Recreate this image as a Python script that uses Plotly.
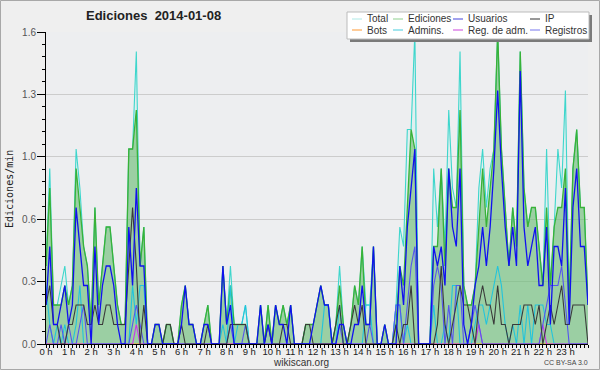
import plotly.graph_objects as go

# ---- data (edits per minute, 10-minute bins) ----
minutos = list(range(0, 1450, 10))
horas = list(range(0, 24))
etiquetas_horas = [f"{h} h" for h in horas]

ediciones = [
    0.4, 0.8, 0.2, 0.2, 0.2, 0.3, 0.2, 0.3, 0.9, 0.7,
    0.5, 0.4, 0.1, 0.7, 0.2, 0.4, 0.6, 0.6, 0.4, 0.2,
    0.1, 0.1, 1.0, 1.0, 1.2, 0.4, 0.6, 0.0, 0.0, 0.1,
    0.1, 0.0, 0.1, 0.1, 0.0, 0.0, 0.2, 0.3, 0.1, 0.1,
    0.0, 0.0, 0.1, 0.2, 0.0, 0.0, 0.0, 0.4, 0.1, 0.3,
    0.1, 0.1, 0.1, 0.1, 0.0, 0.0, 0.0, 0.2, 0.0, 0.2,
    0.0, 0.2, 0.1, 0.2, 0.1, 0.2, 0.0, 0.0, 0.0, 0.1,
    0.1, 0.1, 0.2, 0.3, 0.2, 0.2, 0.0, 0.1, 0.3, 0.1,
    0.0, 0.1, 0.3, 0.2, 0.5, 0.1, 0.1, 0.5, 0.0, 0.0,
    0.1, 0.0, 0.0, 0.1, 0.4, 0.3, 0.7, 1.1, 1.0, 0.0,
    0.0, 0.0, 0.0, 0.5, 0.5, 0.9, 0.4, 0.9, 0.7, 0.7,
    1.2, 0.3, 0.2, 0.2, 0.3, 0.6, 0.9, 0.6, 0.8, 1.0,
    1.6, 1.0, 0.7, 0.4, 0.7, 0.5, 1.5, 0.8, 0.6, 0.7,
    0.7, 0.5, 0.3, 0.7, 0.3, 0.6, 0.7, 0.7, 0.9, 0.2,
    0.9, 1.1, 0.7, 0.7, 0.2,
]
total = [
    0.4, 0.9, 0.2, 0.2, 0.3, 0.4, 0.2, 0.3, 1.0, 0.8,
    0.5, 0.4, 0.1, 0.7, 0.2, 0.4, 0.6, 0.6, 0.4, 0.2,
    0.1, 0.1, 1.0, 1.0, 1.5, 0.4, 0.6, 0.0, 0.0, 0.1,
    0.1, 0.0, 0.1, 0.1, 0.0, 0.0, 0.2, 0.3, 0.1, 0.1,
    0.0, 0.0, 0.1, 0.2, 0.0, 0.0, 0.0, 0.4, 0.1, 0.4,
    0.1, 0.1, 0.1, 0.2, 0.0, 0.0, 0.0, 0.2, 0.0, 0.2,
    0.0, 0.2, 0.1, 0.2, 0.1, 0.2, 0.0, 0.0, 0.0, 0.1,
    0.1, 0.1, 0.2, 0.3, 0.2, 0.2, 0.0, 0.1, 0.4, 0.1,
    0.0, 0.1, 0.3, 0.2, 0.5, 0.2, 0.2, 0.5, 0.0, 0.0,
    0.1, 0.0, 0.0, 0.2, 0.6, 0.5, 1.1, 1.1, 1.6, 0.0,
    0.0, 0.0, 0.0, 0.9, 0.6, 0.9, 0.5, 1.2, 0.8, 0.7,
    1.5, 0.3, 0.2, 0.2, 0.3, 0.8, 1.0, 0.7, 0.9, 1.0,
    1.6, 1.0, 0.7, 0.4, 0.7, 0.5, 1.5, 0.8, 0.6, 0.7,
    0.7, 0.5, 0.3, 1.0, 0.3, 0.6, 1.0, 0.8, 1.3, 0.2,
    0.9, 1.1, 0.7, 0.7, 0.2,
]
usuarios = [
    0.2, 0.5, 0.1, 0.1, 0.2, 0.3, 0.1, 0.2, 0.7, 0.5,
    0.3, 0.3, 0.0, 0.5, 0.1, 0.3, 0.4, 0.4, 0.3, 0.1,
    0.0, 0.0, 0.6, 0.3, 0.8, 0.4, 0.4, 0.0, 0.0, 0.1,
    0.1, 0.0, 0.0, 0.0, 0.0, 0.0, 0.1, 0.3, 0.1, 0.1,
    0.0, 0.0, 0.1, 0.1, 0.0, 0.0, 0.0, 0.4, 0.1, 0.2,
    0.0, 0.0, 0.0, 0.0, 0.0, 0.0, 0.0, 0.2, 0.0, 0.1,
    0.0, 0.2, 0.1, 0.1, 0.0, 0.2, 0.0, 0.0, 0.0, 0.0,
    0.0, 0.1, 0.2, 0.3, 0.2, 0.2, 0.0, 0.0, 0.1, 0.1,
    0.0, 0.0, 0.1, 0.1, 0.3, 0.1, 0.1, 0.5, 0.0, 0.0,
    0.1, 0.0, 0.0, 0.0, 0.4, 0.2, 0.6, 0.8, 1.0, 0.0,
    0.0, 0.0, 0.0, 0.5, 0.4, 0.5, 0.3, 0.9, 0.6, 0.5,
    0.9, 0.1, 0.0, 0.1, 0.3, 0.4, 0.6, 0.4, 0.6, 0.9,
    1.3, 0.9, 0.6, 0.4, 0.6, 0.4, 1.4, 0.6, 0.4, 0.5,
    0.6, 0.3, 0.3, 0.6, 0.1, 0.5, 0.5, 0.4, 0.8, 0.1,
    0.7, 0.9, 0.5, 0.5, 0.2,
]
ip = [
    0.2, 0.3, 0.1, 0.1, 0.0, 0.0, 0.1, 0.1, 0.2, 0.2,
    0.2, 0.1, 0.1, 0.2, 0.1, 0.1, 0.2, 0.2, 0.1, 0.1,
    0.1, 0.1, 0.4, 0.7, 0.4, 0.0, 0.2, 0.0, 0.0, 0.0,
    0.0, 0.0, 0.1, 0.1, 0.0, 0.0, 0.1, 0.0, 0.0, 0.0,
    0.0, 0.0, 0.0, 0.1, 0.0, 0.0, 0.0, 0.0, 0.0, 0.1,
    0.1, 0.1, 0.1, 0.1, 0.0, 0.0, 0.0, 0.0, 0.0, 0.1,
    0.0, 0.0, 0.0, 0.1, 0.1, 0.0, 0.0, 0.0, 0.0, 0.1,
    0.1, 0.0, 0.0, 0.0, 0.0, 0.0, 0.0, 0.1, 0.2, 0.0,
    0.0, 0.1, 0.2, 0.1, 0.2, 0.0, 0.0, 0.0, 0.0, 0.0,
    0.0, 0.0, 0.0, 0.1, 0.0, 0.1, 0.1, 0.3, 0.0, 0.0,
    0.0, 0.0, 0.0, 0.0, 0.1, 0.4, 0.1, 0.0, 0.1, 0.2,
    0.3, 0.2, 0.2, 0.1, 0.0, 0.2, 0.3, 0.2, 0.2, 0.1,
    0.3, 0.1, 0.1, 0.0, 0.1, 0.1, 0.1, 0.2, 0.2, 0.2,
    0.1, 0.2, 0.0, 0.1, 0.2, 0.1, 0.2, 0.3, 0.1, 0.1,
    0.2, 0.2, 0.2, 0.2, 0.0,
]
admins = [
    0.3, 0.1, 0.0, 0.1, 0.0, 0.1, 0.0, 0.0, 0.1, 0.3,
    0.0, 0.0, 0.0, 0.0, 0.0, 0.0, 0.0, 0.0, 0.0, 0.0,
    0.0, 0.0, 0.0, 0.3, 0.1, 0.3, 0.3, 0.0, 0.0, 0.0,
    0.0, 0.0, 0.0, 0.0, 0.0, 0.0, 0.0, 0.0, 0.0, 0.0,
    0.0, 0.0, 0.0, 0.0, 0.0, 0.0, 0.0, 0.1, 0.0, 0.3,
    0.0, 0.1, 0.1, 0.2, 0.0, 0.0, 0.0, 0.0, 0.0, 0.0,
    0.0, 0.0, 0.0, 0.0, 0.0, 0.0, 0.0, 0.0, 0.0, 0.0,
    0.0, 0.0, 0.0, 0.0, 0.2, 0.2, 0.0, 0.0, 0.2, 0.0,
    0.0, 0.0, 0.0, 0.0, 0.0, 0.2, 0.2, 0.0, 0.0, 0.0,
    0.0, 0.0, 0.0, 0.2, 0.2, 0.0, 0.1, 0.0, 0.0, 0.0,
    0.0, 0.0, 0.0, 0.2, 0.0, 0.0, 0.1, 0.0, 0.3, 0.3,
    0.0, 0.0, 0.0, 0.0, 0.1, 0.2, 0.2, 0.1, 0.2, 0.3,
    0.4, 0.3, 0.1, 0.0, 0.1, 0.0, 0.2, 0.0, 0.2, 0.0,
    0.2, 0.2, 0.2, 0.1, 0.1, 0.0, 0.0, 0.0, 0.0, 0.0,
    0.0, 0.0, 0.0, 0.0, 0.0,
]
registros = [
    0.0, 0.1, 0.0, 0.0, 0.1, 0.0, 0.1, 0.0, 0.0, 0.1,
    0.2, 0.0, 0.0, 0.0, 0.0, 0.0, 0.0, 0.0, 0.0, 0.0,
    0.0, 0.0, 0.0, 0.1, 0.2, 0.1, 0.0, 0.0, 0.0, 0.0,
    0.0, 0.0, 0.0, 0.0, 0.0, 0.0, 0.0, 0.0, 0.0, 0.0,
    0.0, 0.0, 0.0, 0.0, 0.0, 0.0, 0.0, 0.0, 0.0, 0.1,
    0.0, 0.0, 0.0, 0.1, 0.0, 0.0, 0.0, 0.0, 0.0, 0.0,
    0.0, 0.0, 0.0, 0.0, 0.0, 0.0, 0.0, 0.0, 0.0, 0.0,
    0.0, 0.0, 0.0, 0.0, 0.0, 0.0, 0.0, 0.0, 0.1, 0.0,
    0.0, 0.0, 0.0, 0.0, 0.0, 0.0, 0.1, 0.0, 0.0, 0.0,
    0.0, 0.0, 0.0, 0.2, 0.2, 0.0, 0.2, 0.4, 0.5, 0.0,
    0.0, 0.0, 0.0, 0.3, 0.4, 0.3, 0.0, 0.2, 0.0, 0.3,
    0.3, 0.0, 0.0, 0.1, 0.2, 0.1, 0.0, 0.0, 0.0, 0.0,
    0.0, 0.0, 0.0, 0.0, 0.0, 0.0, 0.0, 0.0, 0.0, 0.0,
    0.0, 0.0, 0.1, 0.2, 0.3, 0.3, 0.3, 0.4, 0.2, 0.0,
    0.0, 0.0, 0.0, 0.0, 0.0,
]
reg_adm = [0.0] * 145
for k in (24, 115, 132):
    reg_adm[k] = 0.1
bots = [0.0] * 145

# ---- layout geometry ----
W, H = 600, 370
ML, MR, MT, MB = 46, 12, 32, 26
PW, PH = W - ML - MR, H - MT - MB


def fx(p):
    return (p - ML) / PW


def fy(p):
    return (H - MB - p) / PH


FONT = "Liberation Sans"
fig = go.Figure()

fig.add_trace(go.Scatter(x=minutos, y=total, mode="lines", name="Total",
                         line=dict(color="#3ed6cc", width=1.1),
                         fill="tozeroy", fillcolor="rgba(200,242,238,0.35)"))
fig.add_trace(go.Scatter(x=minutos, y=ediciones, mode="lines", name="Ediciones",
                         line=dict(color="#38b238", width=1.3),
                         fill="tozeroy", fillcolor="rgba(70,168,70,0.45)"))
fig.add_trace(go.Scatter(x=minutos, y=bots, mode="lines", name="Bots",
                         line=dict(color="#ff9922", width=1)))
fig.add_trace(go.Scatter(x=minutos, y=admins, mode="lines", name="Admins.",
                         line=dict(color="#22c4dc", width=1.1)))
fig.add_trace(go.Scatter(x=minutos, y=reg_adm, mode="lines", name="Reg. de adm.",
                         line=dict(color="#cc33ee", width=1.1)))
fig.add_trace(go.Scatter(x=minutos, y=registros, mode="lines", name="Registros",
                         line=dict(color="#5555ee", width=1.1)))
fig.add_trace(go.Scatter(x=minutos, y=ip, mode="lines", name="IP",
                         line=dict(color="#3a3a3a", width=1.1)))
fig.add_trace(go.Scatter(x=minutos, y=usuarios, mode="lines", name="Usuarios",
                         line=dict(color="#1010f0", width=1.3)))

shapes = []
annotations = []

# outer border
shapes.append(dict(type="rect", xref="paper", yref="paper",
                   x0=fx(0.5), x1=fx(W - 0.5), y0=fy(H - 0.5), y1=fy(0.5),
                   line=dict(color="#a8a8a8", width=1), layer="below"))

# title
annotations.append(dict(text="<b>Ediciones  2014-01-08</b>", xref="paper", yref="paper",
                        x=fx(153), y=fy(16), showarrow=False, xanchor="center", yanchor="middle",
                        font=dict(family=FONT, size=13, color="#222")))
# y title
annotations.append(dict(text="Ediciones/min", xref="paper", yref="paper", textangle=-90,
                        x=fx(9), y=fy(189), showarrow=False, xanchor="center", yanchor="middle",
                        font=dict(family="DejaVu Sans Mono", size=10, color="#222")))
annotations.append(dict(text="wikiscan.org", xref="paper", yref="paper",
                        x=fx(301), y=fy(362), showarrow=False, xanchor="center", yanchor="middle",
                        font=dict(family=FONT, size=10, color="#333")))
annotations.append(dict(text="CC BY-SA 3.0", xref="paper", yref="paper",
                        x=fx(590), y=fy(362), showarrow=False, xanchor="right", yanchor="middle",
                        font=dict(family=FONT, size=7, color="#444")))

# legend box (manual)
lx0, lx1, ly0, ly1 = 347, 589, 12, 39
shapes.append(dict(type="rect", xref="paper", yref="paper",
                   x0=fx(lx0 + 3), x1=fx(lx1 + 3), y0=fy(ly1 + 3), y1=fy(ly0 + 3),
                   fillcolor="#7a7a7a", line=dict(width=0), layer="above"))
shapes.append(dict(type="rect", xref="paper", yref="paper",
                   x0=fx(lx0), x1=fx(lx1), y0=fy(ly1), y1=fy(ly0),
                   fillcolor="white", line=dict(color="#bbbbbb", width=1), layer="above"))
legend_items = [
    ("Total", "#aee9e6", 352, 19), ("Ediciones", "#8fd08f", 393, 19),
    ("Usuarios", "#4444dd", 453, 19), ("IP", "#333333", 530, 19),
    ("Bots", "#ff9933", 352, 30), ("Admins.", "#44ccdd", 393, 30),
    ("Reg. de adm.", "#cc44dd", 453, 30), ("Registros", "#7777ee", 530, 30),
]
for name, col, x0, yy in legend_items:
    shapes.append(dict(type="line", xref="paper", yref="paper",
                       x0=fx(x0), x1=fx(x0 + 10), y0=fy(yy), y1=fy(yy),
                       line=dict(color=col, width=1), layer="above"))
    annotations.append(dict(text=name, xref="paper", yref="paper", x=fx(x0 + 13), y=fy(yy),
                            showarrow=False, xanchor="left", yanchor="middle",
                            font=dict(family=FONT, size=10, color="#333")))

fig.update_layout(
    width=W, height=H, margin=dict(l=ML, r=MR, t=MT, b=MB, autoexpand=False),
    paper_bgcolor="#efefef", plot_bgcolor="#edeef0",
    showlegend=False, shapes=shapes, annotations=annotations,
    font=dict(family=FONT),
)
fig.update_xaxes(
    range=[0, 1440], tickvals=[h * 60 for h in horas], ticktext=etiquetas_horas,
    ticks="outside", ticklen=3, tickcolor="black", showline=True, linecolor="black",
    linewidth=1, showgrid=False, zeroline=False, ticklabelstandoff=-4, automargin=False,
    tickfont=dict(family=FONT, size=9.5, color="#222"),
    minor=dict(tickvals=minutos, ticks="outside", ticklen=3, tickcolor="black", showgrid=False),
)
fig.update_yaxes(
    range=[0, 1.6], tickvals=[0, 0.32, 0.64, 0.96, 1.28, 1.6],
    ticktext=["0.0", "0.3", "0.6", "1.0", "1.3", "1.6"],
    ticks="outside", ticklen=8, tickcolor="black", showline=True, linecolor="black",
    linewidth=1, showgrid=True, gridcolor="#cccccc", gridwidth=1, zeroline=False,
    ticklabelstandoff=-1, automargin=False,
    tickfont=dict(family=FONT, size=10, color="#555"),
    minor=dict(dtick=0.064, tick0=0, ticks="outside", ticklen=3, tickcolor="black", showgrid=False),
)

fig.write_html("out.html", config={"displayModeBar": False},
               post_script="document.body.style.margin='0px';document.body.style.overflow='hidden';")
